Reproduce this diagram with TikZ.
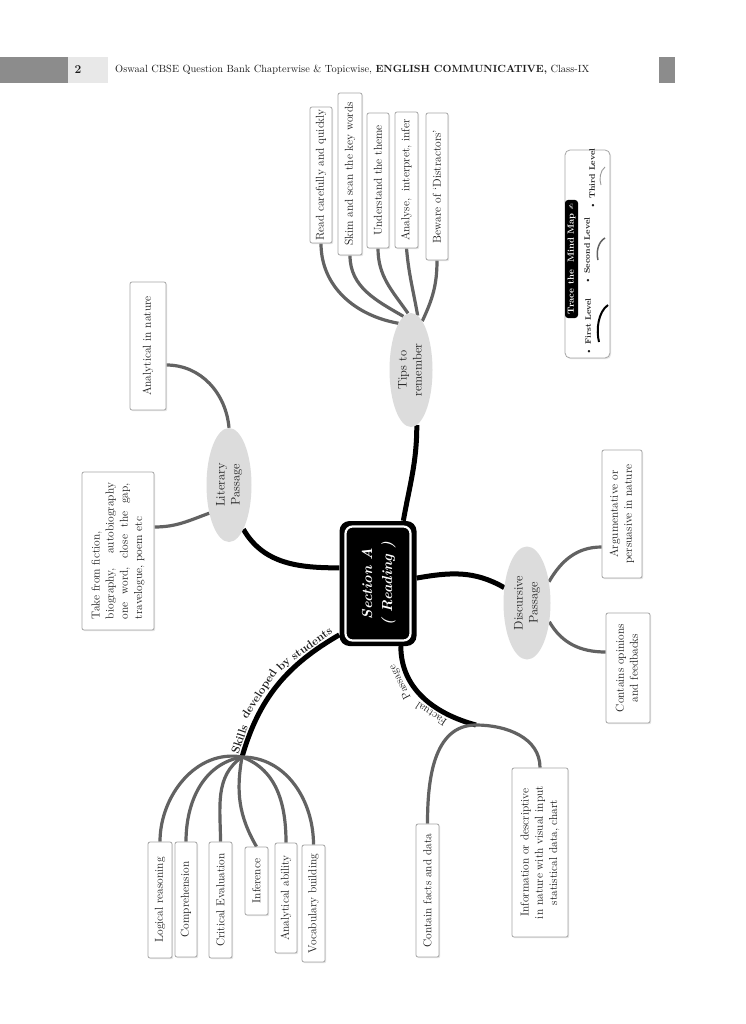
\documentclass[tikz,border=0pt]{standalone}
\usepackage{fontspec}
\newfontfamily\symfont{DejaVu Sans}
\usetikzlibrary{calc,shadows,shapes.geometric}
\definecolor{ink}{HTML}{1C1C1C}
\definecolor{subgray}{HTML}{626262}
\definecolor{ellfill}{HTML}{DCDCDC}
\definecolor{boxline}{HTML}{A6A6A6}
\definecolor{hdrdark}{HTML}{8C8C8C}
\definecolor{hdrlight}{HTML}{E8E8E8}
\newcommand{\rotT}[1]{\rotatebox{90}{#1}}
\pgfdeclarelayer{bg}
\pgfsetlayers{bg,main}
\begin{document}
\begin{tikzpicture}[x=1pt,y=1pt,
  box/.style={draw=boxline, line width=0.8pt, fill=white, rounded corners=2pt, inner sep=0pt, text=ink,
    font=\fontsize{11.5}{14.2}\selectfont,
    drop shadow={shadow xshift=1.2pt, shadow yshift=-1.2pt, fill=black!20}},
  ell/.style={ellipse, fill=ellfill, inner sep=0pt, text=ink, font=\fontsize{12.5}{15}\selectfont},
  mainline/.style={line width=5pt, black},
  branchline/.style={line width=3.2pt, subgray},
  cenout/.style={fill=black, rounded corners=10pt, minimum width=77, minimum height=125, inner sep=0pt},
  cenin/.style={fill=black, draw=white, line width=2.2pt, rounded corners=7pt, minimum width=65, minimum height=114,
    inner sep=0pt, text=white, font=\fontsize{14.5}{20}\selectfont\bfseries\itshape},
  legbox/.style={draw=boxline, line width=0.8pt, fill=white, rounded corners=5pt, inner sep=0pt,
    drop shadow={shadow xshift=1.2pt, shadow yshift=-1.2pt, fill=black!20}},
  legtitle/.style={fill=black, rounded corners=3pt, inner sep=0pt, text=white, font=\fontsize{9}{10}\selectfont\bfseries},
  leglab/.style={inner sep=0pt, text=ink, font=\fontsize{8}{9}\selectfont\bfseries},
  hdrtext/.style={inner sep=0pt, text=ink, font=\fontsize{10.4}{12}\selectfont},
  skillword/.style={inner sep=0pt, text=ink, sloped, above=3.5pt, font=\fontsize{11.5}{13}\selectfont\bfseries},
  factword/.style={inner sep=0pt, text=ink, sloped, allow upside down, above=4pt, font=\fontsize{11}{13}\selectfont}
]
\useasboundingbox (0,0) rectangle (745,-1024);
\begin{pgfonlayer}{bg}
  \fill[white] (0,0) rectangle (745,-1024);
\end{pgfonlayer}

% header
\fill[hdrdark] (0,-57) rectangle (68,-83);
\fill[hdrlight] (68,-57) rectangle (108,-83);
\fill[hdrdark] (659,-57) rectangle (675,-83);
\node[hdrtext, font=\fontsize{12}{14}\selectfont\bfseries] (pg) at (78,-70) {2};
\node[hdrtext, anchor=west] (hdr) at (115,-70) {Oswaal CBSE Question Bank Chapterwise \& Topicwise, \textbf{ENGLISH COMMUNICATIVE,} Class-IX};

% centre
\node[cenout] (cen) at (378,-583.5) {};
\node[cenin] (cin) at (cen) {\rotT{\begin{tabular}{@{}c@{}}Section A\\( Reading )\end{tabular}}};

% second level ellipses
\node[ell, minimum width=45, minimum height=114] (lit) at (229,-485) {\rotT{\begin{tabular}{@{}c@{}}Literary\\Passage\end{tabular}}};
\node[ell, minimum width=43, minimum height=114] (tips) at (411,-370) {\rotT{\begin{tabular}{@{}c@{}}Tips to\\remember\end{tabular}}};
\node[ell, minimum width=47, minimum height=113] (disc) at (527,-603) {\rotT{\begin{tabular}{@{}c@{}}Discursive\\Passage\end{tabular}}};

% tips boxes
\node[box, minimum width=22, minimum height=136] (t1) at (321,-175) {\rotT{Read carefully and quickly}};
\node[box, minimum width=24, minimum height=162] (t2) at (350,-174) {\rotT{Skim and scan the key words}};
\node[box, minimum width=22, minimum height=135] (t3) at (378,-180.5) {\rotT{Understand the theme}};
\node[box, minimum width=23, minimum height=136] (t4) at (406.5,-180) {\rotT{Analyse,\ \ interpret, infer}};
\node[box, minimum width=22, minimum height=147] (t5) at (437,-186.5) {\rotT{Beware of `Distractors'}};

% literary boxes
\node[box, minimum width=36, minimum height=128] (a1) at (148,-346) {\rotT{Analytical in nature}};
\node[box, minimum width=72, minimum height=158] (a2) at (118,-551) {\rotT{\begin{tabular}{@{}l@{}}Take from fiction,\\\makebox[136pt][s]{biography, autobiography}\\\makebox[136pt][s]{one word, close the gap,}\\travelogue, poem etc\end{tabular}}};

% discursive boxes
\node[box, minimum width=40, minimum height=128] (d1) at (622,-514) {\rotT{\begin{tabular}{@{}c@{}}Argumentative or\\persuasive in nature\end{tabular}}};
\node[box, minimum width=44, minimum height=110] (d2) at (628,-668) {\rotT{\begin{tabular}{@{}c@{}}Contains opinions\\and feedbacks\end{tabular}}};

% factual boxes
\node[box, minimum width=23, minimum height=133] (f1) at (427.5,-890.5) {\rotT{Contain facts and data}};
\node[box, minimum width=56, minimum height=169] (f2) at (540,-852.5) {\rotT{\begin{tabular}{@{}c@{}}Information or descriptive\\in nature with visual input\\statistical data, chart\end{tabular}}};

% skills boxes
\node[box, minimum width=24, minimum height=116] (s1) at (160,-900) {\rotT{Logical reasoning}};
\node[box, minimum width=22, minimum height=115] (s2) at (186,-899.5) {\rotT{Comprehension}};
\node[box, minimum width=23, minimum height=116] (s3) at (220.5,-900) {\rotT{Critical Evaluation}};
\node[box, minimum width=23, minimum height=68] (s4) at (256.5,-881) {\rotT{Inference}};
\node[box, minimum width=22, minimum height=110] (s5) at (286,-898) {\rotT{Analytical ability}};
\node[box, minimum width=23, minimum height=117] (s6) at (313.5,-903.5) {\rotT{Vocabulary building}};

% junctions
\coordinate (fs) at (242,-757);
\coordinate (fj) at (476,-725);

% connectors
\begin{pgfonlayer}{bg}
  \draw[mainline] (cen.158) to[out=180,in=-60] (lit.-72);
  \draw[mainline] (cen.68) to[out=80,in=-90] (tips.-84);
  \draw[mainline] (cen.8) to[out=10,in=150] (disc.146);
  \draw[mainline] (cen.-70) to[out=-90,in=165] (fj);
  \draw[mainline] (cen.-127) to[out=210,in=74] (fs);

  \draw[branchline] (lit.north) to[out=95,in=0] ($(a1.east)+(0,-19)$);
  \draw[branchline] (lit.235) to[out=200,in=0] ($(a2.east)+(0,24)$);

  \draw[branchline] (tips.105) to[out=170,in=-90] (t1.south);
  \draw[branchline] (tips.98) to[out=150,in=-90] (t2.south);
  \draw[branchline] (tips.93) to[out=125,in=-90] (t3.south);
  \draw[branchline] (tips.83) to[out=100,in=-85] (t4.south);
  \draw[branchline] (tips.77) to[out=65,in=-90] (t5.south);

  \draw[branchline] (disc.44) to[out=60,in=180] ($(d1.west)+(0,-33)$);
  \draw[branchline] (disc.-40) to[out=-60,in=180] ($(d2.west)+(0,16)$);

  \draw[branchline] (fj) to[out=180,in=90] (f1.north);
  \draw[branchline] (fj) to[out=0,in=90] (f2.north);

  \draw[branchline] (fs) to[out=170,in=90] (s1.north);
  \draw[branchline] (fs) to[out=190,in=90] (s2.north);
  \draw[branchline] (fs) to[out=215,in=90] (s3.north);
  \draw[branchline] (fs) to[out=-100,in=120] (s4.north);
  \draw[branchline] (fs) to[out=-20,in=90] (s5.north);
  \draw[branchline] (fs) to[out=0,in=90] (s6.north);
\end{pgfonlayer}

% branch labels, word by word along the curves
\path (fs) to[out=74,in=210]
  node[skillword, pos=0.09] (sk1) {Skills}
  node[skillword, pos=0.385] (sk2) {developed}
  node[skillword, pos=0.63] (sk3) {by}
  node[skillword, pos=0.84] (sk4) {students}
  (cen.-127);
\path (fj) to[out=165,in=-90]
  node[factword, pos=0.36] (fp1) {Factual}
  node[factword, pos=0.72] (fp2) {Passage}
  (cen.-70);

% legend
\node[legbox, minimum width=45, minimum height=208] (leg) at (587.5,-254) {};
\node[legtitle, minimum width=13, minimum height=118] (legt) at (571.5,-259) {\rotT{Trace the\ \ Mind Map {\symfont\fontsize{7}{8}\selectfont ✍}}};
\node[leglab] (l1) at (588,-327) {\rotT{\textbullet\ First Level}};
\node[leglab] (l2) at (587,-251) {\rotT{\textbullet\ Second Level}};
\node[leglab] (l3) at (592,-179) {\rotT{\textbullet\ Third Level}};
\draw[line width=2pt, black] (608,-305) .. controls (598,-312) and (596,-330) .. (599,-342);
\draw[line width=1.5pt, subgray] (605,-238) .. controls (598,-242) and (596,-252) .. (598,-260);
\draw[line width=0.9pt, black!40] (605,-167) .. controls (600,-171) and (599,-179) .. (601,-185);
\end{tikzpicture}
\end{document}
